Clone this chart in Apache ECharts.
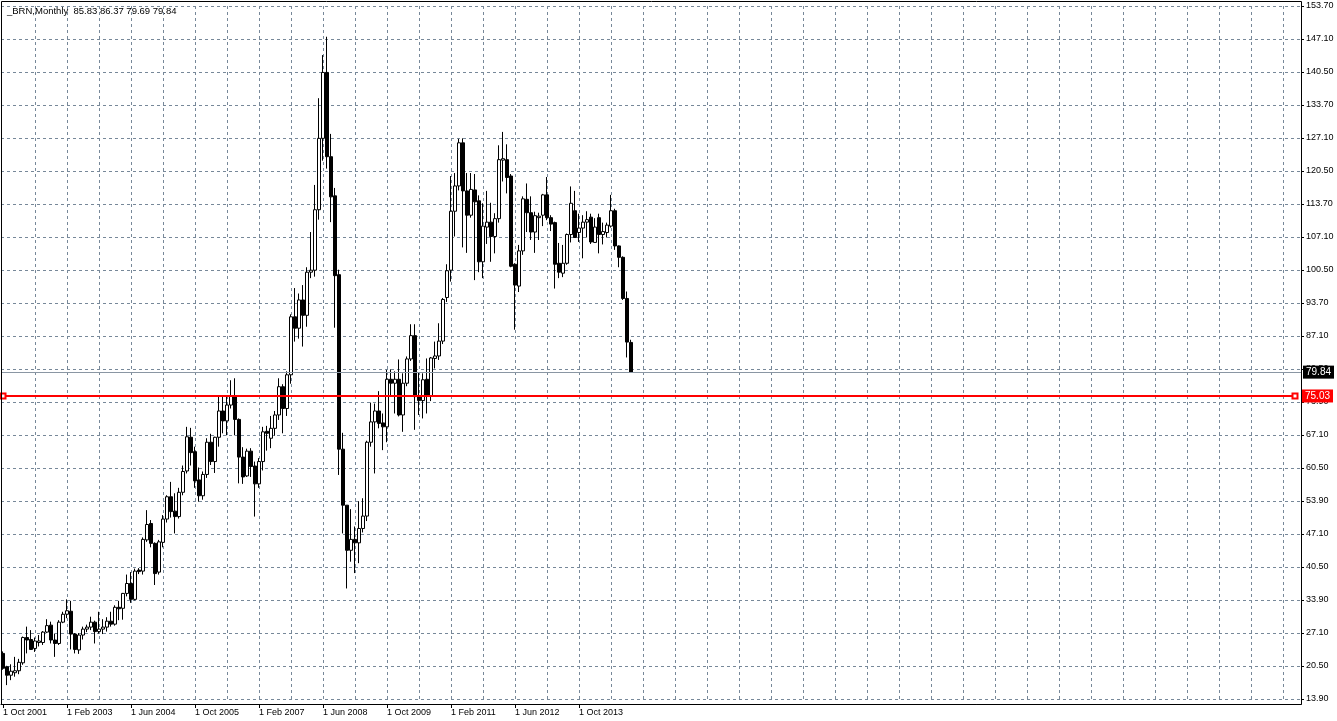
<!DOCTYPE html>
<html>
<head>
<meta charset="utf-8">
<script src="https://cdn.jsdelivr.net/npm/echarts@6/dist/echarts.min.js"></script>
<style>
  html, body { margin: 0; padding: 0; background: #fff; }
  #main { width: 1337px; height: 721px; }
</style>
</head>
<body>
<div id="main"></div>
<script>
  // monthly Brent bars, first bar = Oct 2001
  const symbolName = '_BRN,Monthly'
  const firstYear = 2001
  const firstMonth = 9
  const slotCount = 325

  const opens = [
    23.1, 20.4, 18.7, 19.2, 19.6, 21.2, 26.3, 25.9, 24.1, 25.3, 25.3, 27.4,
    28.8, 25.8, 25.1, 29.4, 31.0, 31.6, 27.0, 23.8, 26.8, 28.0, 28.4, 29.4,
    27.5, 28.0, 28.4, 29.6, 29.0, 32.4, 32.2, 35.2, 37.2, 34.0, 39.9, 39.7,
    46.0, 49.3, 45.3, 39.5, 45.5, 50.2, 54.7, 51.8, 50.7, 55.6, 59.9, 66.7,
    63.8, 58.1, 54.9, 59.2, 65.7, 61.8, 66.7, 72.0, 70.0, 73.2, 75.0, 70.3,
    62.7, 58.9, 63.9, 60.9, 57.3, 61.8, 67.9, 66.5, 68.5, 71.2, 76.9, 72.5,
    79.3, 91.0, 88.7, 94.4, 91.3, 100.0, 100.4, 112.6, 127.0, 140.3, 123.3, 115.4,
    99.5, 64.3, 53.0, 43.9, 46.1, 45.4, 48.3, 50.8, 65.7, 69.8, 72.0, 69.6,
    68.8, 78.4, 77.6, 78.4, 71.2, 77.6, 82.5, 87.2, 74.9, 74.1, 78.4, 75.0,
    82.6, 83.1, 86.1, 94.9, 100.4, 112.3, 117.4, 126.1, 116.4, 111.5, 116.6, 114.4,
    102.1, 109.1, 110.1, 107.2, 110.8, 122.6, 122.7, 119.4, 101.6, 97.2, 104.3, 114.7,
    112.0, 108.1, 111.0, 111.5, 115.6, 111.0, 110.0, 101.8, 99.8, 101.8, 107.6, 112.4,
    108.0, 108.9, 110.1, 111.1, 106.0, 111.0, 107.6, 108.0, 109.3, 112.4, 105.3, 103.0,
    94.7, 85.83
  ]
  const highs = [
    23.5, 20.6, 20.9, 22.4, 22.0, 26.5, 28.5, 27.8, 26.3, 26.8, 27.6, 30.0,
    29.5, 27.1, 29.8, 31.5, 34.0, 33.7, 27.2, 27.2, 28.5, 28.9, 30.5, 29.7,
    31.5, 30.0, 30.4, 31.5, 32.8, 33.7, 35.3, 39.0, 39.5, 40.2, 40.3, 46.5,
    52.0, 50.0, 45.5, 46.0, 51.0, 55.0, 57.7, 55.4, 56.5, 61.0, 68.8, 68.6,
    64.8, 60.6, 59.8, 66.5, 67.4, 66.8, 75.2, 75.2, 74.9, 78.2, 78.6, 70.5,
    64.7, 64.4, 64.5, 61.8, 62.5, 68.8, 69.0, 71.0, 72.0, 78.6, 77.4, 80.0,
    91.5, 96.8, 95.7, 97.4, 101.0, 108.1, 117.6, 135.1, 143.8, 147.5, 127.9, 117.0,
    100.5, 67.6, 53.0, 52.2, 48.7, 53.8, 54.4, 66.0, 73.7, 73.5, 76.0, 71.5,
    80.3, 80.4, 80.0, 82.4, 79.6, 83.0, 89.5, 89.5, 79.7, 79.6, 82.6, 82.9,
    86.0, 89.7, 94.8, 101.6, 119.4, 120.0, 126.9, 127.0, 120.0, 120.0, 119.8, 115.5,
    113.9, 116.4, 114.0, 111.9, 125.6, 128.3, 125.8, 119.8, 101.8, 105.5, 115.3, 117.9,
    115.3, 112.2, 112.0, 115.8, 119.2, 111.5, 110.2, 105.9, 105.5, 107.8, 117.3, 116.4,
    111.8, 111.5, 112.3, 111.8, 110.9, 111.8, 110.0, 110.0, 115.6, 112.8, 105.4, 103.2,
    96.1, 86.37
  ]
  const lows = [
    19.8, 16.7, 17.7, 18.4, 18.9, 20.8, 23.1, 23.8, 23.4, 24.5, 24.8, 27.2,
    25.1, 22.4, 24.8, 29.2, 30.2, 23.9, 23.1, 23.0, 25.9, 27.4, 27.8, 25.1,
    27.1, 27.0, 27.5, 28.5, 28.7, 29.8, 29.9, 34.6, 33.3, 33.8, 39.1, 39.0,
    45.6, 44.5, 36.9, 39.0, 44.5, 49.5, 50.5, 47.3, 50.3, 55.0, 59.4, 61.0,
    56.5, 53.7, 54.1, 58.5, 61.1, 59.5, 64.8, 67.5, 67.1, 72.5, 67.1, 57.4,
    57.3, 58.7, 58.7, 50.7, 56.5, 60.0, 64.0, 64.5, 67.0, 70.2, 67.5, 71.0,
    77.5, 86.0, 86.6, 85.0, 89.0, 98.8, 99.1, 110.6, 122.5, 120.9, 110.1, 88.8,
    59.1, 47.3, 36.2, 41.6, 39.3, 41.3, 47.5, 49.8, 64.8, 59.4, 68.5, 64.1,
    65.7, 75.2, 71.5, 70.9, 67.8, 77.0, 82.1, 68.2, 71.2, 70.5, 71.5, 74.0,
    80.6, 82.3, 85.5, 94.0, 98.1, 107.2, 116.5, 105.0, 103.9, 111.0, 98.4, 100.0,
    98.8, 105.7, 102.1, 103.8, 110.0, 118.3, 115.9, 101.0, 88.4, 96.0, 103.5, 108.1,
    106.5, 103.9, 106.5, 109.3, 110.5, 108.3, 96.7, 98.8, 99.0, 101.5, 106.0, 106.9,
    106.1, 102.8, 107.0, 105.7, 105.9, 103.8, 105.6, 107.0, 109.0, 104.5, 101.0, 94.4,
    82.8, 79.69
  ]
  const closes = [
    20.1, 18.7, 19.5, 19.6, 21.3, 26.3, 25.8, 23.9, 25.6, 25.6, 27.4, 28.7,
    25.8, 25.1, 29.4, 31.0, 31.7, 27.0, 23.9, 26.8, 28.0, 28.4, 29.4, 27.5,
    28.0, 28.4, 29.6, 29.0, 32.4, 32.1, 35.2, 37.2, 34.0, 39.7, 39.6, 46.1,
    49.1, 45.3, 39.2, 45.6, 50.2, 54.7, 51.7, 50.7, 55.6, 59.8, 66.8, 63.6,
    57.9, 54.9, 59.2, 65.7, 61.8, 66.7, 72.0, 70.0, 73.2, 75.0, 70.3, 62.7,
    58.7, 63.9, 60.8, 57.3, 61.8, 67.8, 67.5, 68.5, 71.2, 76.9, 72.5, 79.3,
    91.0, 88.7, 94.4, 91.3, 100.0, 100.4, 112.6, 127.0, 140.3, 123.3, 115.2, 99.3,
    64.3, 53.0, 43.9, 46.1, 45.4, 48.3, 50.8, 65.7, 69.8, 72.0, 69.5, 68.8,
    78.4, 77.6, 78.4, 71.2, 77.6, 82.5, 87.2, 74.9, 74.1, 78.3, 75.0, 82.7,
    83.1, 86.1, 94.5, 100.3, 112.3, 117.4, 126.1, 116.4, 111.5, 116.7, 114.2, 102.1,
    109.3, 110.1, 107.2, 110.8, 122.7, 122.9, 119.1, 101.2, 97.4, 104.3, 114.8, 112.0,
    108.1, 111.4, 111.3, 115.6, 111.0, 109.7, 101.6, 100.0, 101.8, 107.6, 113.9, 107.0,
    108.9, 110.1, 110.6, 106.1, 109.1, 107.6, 108.2, 109.5, 112.4, 105.3, 103.0, 94.7,
    85.9, 79.84
  ]

  const yLabels = [
    '13.90', '20.50', '27.10', '33.90', '40.50', '47.10', '53.90', '60.50',
    '67.10', '73.90', '80.50', '87.10', '93.70', '100.50', '107.10', '113.70',
    '120.50', '127.10', '133.70', '140.50', '147.10', '153.70'
  ]
  const levelPrice = 75.03

  const monthNames = ['Jan', 'Feb', 'Mar', 'Apr', 'May', 'Jun', 'Jul', 'Aug', 'Sep', 'Oct', 'Nov', 'Dec']
  const months = []
  for (let i = 0; i < slotCount; i++) {
    let m = firstMonth + i
    months.push('1 ' + monthNames[m % 12] + ' ' + (firstYear + Math.floor(m / 12)))
  }

  const bars = opens.map((o, i) => [o, closes[i], lows[i], highs[i]])
  const last = bars.length - 1
  const lastClose = closes[last]

  const yMin = parseFloat(yLabels[0])
  const yMax = parseFloat(yLabels[yLabels.length - 1])
  const yStep = (yMax - yMin) / (yLabels.length - 1)

  const gridColor = '#778899'
  const font = 'Liberation Sans'

  let myechart = echarts.init(document.getElementById('main'))
  let option = {
    animation: false,
    backgroundColor: '#fff',
    title: {
      text: symbolName + '  ' + [opens[last], highs[last], lows[last], closes[last]].map(v => v.toFixed(2)).join(' '),
      left: 7,
      top: 6,
      padding: 0,
      textStyle: { fontSize: 9.5, fontWeight: 'normal', color: '#000', fontFamily: font }
    },
    grid: {
      left: 1,
      right: 36,
      top: 6,
      bottom: 22
    },
    graphic: [{
      type: 'rect',
      shape: { x: 1.5, y: 1.5, width: 1300, height: 703 },
      style: { fill: 'none', stroke: '#000', lineWidth: 1 },
      silent: true,
      z: 10
    }],
    xAxis: {
      type: 'category',
      data: months,
      boundaryGap: true,
      offset: 5,
      axisLine: { show: true, lineStyle: { color: '#000' } },
      axisTick: {
        show: true,
        alignWithLabel: true,
        length: 4,
        interval: (i) => i % 16 === 0 && i <= last,
        lineStyle: { color: '#000' }
      },
      axisLabel: {
        interval: (i) => i % 16 === 0 && i <= last,
        align: 'left',
        margin: 4,
        fontSize: 9,
        color: '#000',
        fontFamily: font
      },
      splitLine: {
        show: true,
        alignWithLabel: true,
        interval: (i) => i % 8 === 0 && i > 0,
        lineStyle: { color: gridColor, type: [3, 3] }
      }
    },
    yAxis: {
      type: 'value',
      position: 'right',
      min: yMin,
      max: yMax,
      interval: yStep,
      axisLine: { show: true, lineStyle: { color: '#000' } },
      axisTick: { show: true, length: 3, lineStyle: { color: '#000' } },
      axisLabel: {
        margin: 5,
        fontSize: 9,
        color: '#000',
        fontFamily: font,
        formatter: (v) => yLabels[Math.round((v - yMin) / yStep)] || ''
      },
      splitLine: { show: true, lineStyle: { color: gridColor, type: [3, 3] } }
    },
    series: [{
      type: 'candlestick',
      data: bars,
      barWidth: 3,
      itemStyle: {
        color: '#fff',
        color0: '#000',
        borderColor: '#000',
        borderColor0: '#000',
        borderWidth: 1
      },
      markLine: {
        silent: true,
        symbol: 'none',
        animation: false,
        data: [
          {
            yAxis: lastClose,
            lineStyle: { color: '#8a96a3', width: 1, type: 'solid' },
            label: {
              show: true, position: 'end', distance: 2,
              formatter: lastClose.toFixed(2),
              backgroundColor: '#000', color: '#fff',
              padding: [2, 3, 1, 3], fontSize: 10, fontFamily: font
            }
          },
          [
            {
              xAxis: 0, yAxis: levelPrice,
              symbol: 'emptyRect', symbolSize: 5,
              lineStyle: { color: '#ff0000', width: 2, type: 'solid' },
              label: {
                show: true, position: 'end', distance: 7,
                formatter: levelPrice.toFixed(2),
                backgroundColor: '#ff0000', color: '#fff',
                padding: [2, 3, 1, 3], fontSize: 10, fontFamily: font
              }
            },
            { xAxis: slotCount - 2, yAxis: levelPrice, symbol: 'emptyRect', symbolSize: 5 }
          ]
        ]
      }
    }]
  }
  myechart.setOption(option)
</script>
</body>
</html>
